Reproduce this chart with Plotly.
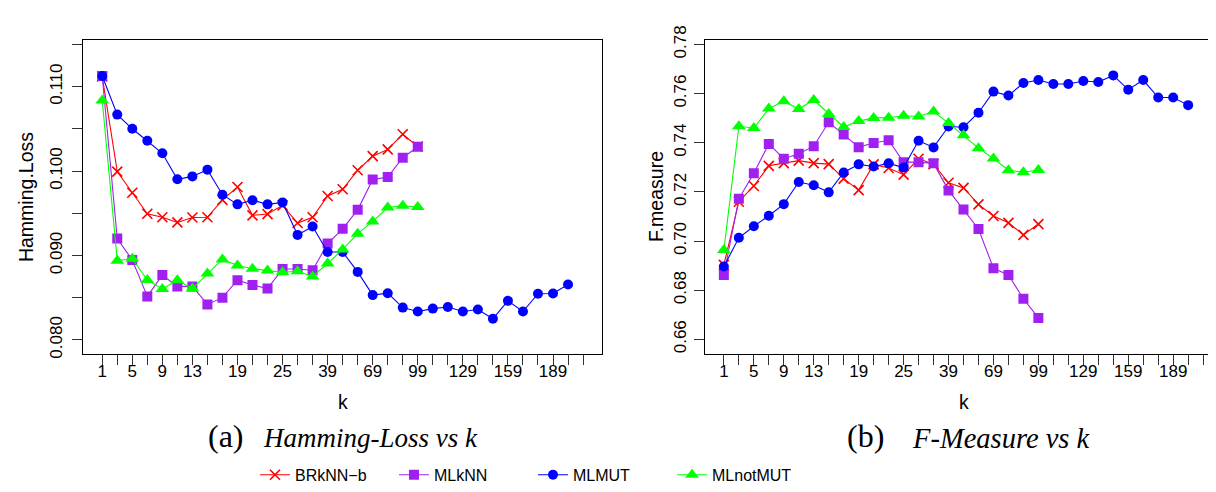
import plotly.graph_objects as go

# ---------------- data ----------------
k_values = [1, 3, 5, 7, 9, 11, 13, 15, 17, 19, 21, 23, 25, 27, 29,
            39, 49, 59, 69, 79, 89, 99, 109, 119, 129, 139, 149, 159,
            169, 179, 189, 199, 209]
k_labels_shown = [1, 5, 9, 13, 19, 25, 39, 69, 99, 129, 159, 189]

series_names = ["BRkNN\u2212b", "MLkNN", "MLMUT", "MLnotMUT"]

hl_brknn = [0.1112, 0.09994, 0.09743, 0.09495, 0.09453, 0.09392, 0.09450, 0.09453,
            0.09659, 0.09811, 0.09476, 0.09491, 0.09594, 0.09385, 0.09453, 0.09705,
            0.09785, 0.10010, 0.10177, 0.10257, 0.10436, 0.10291]
hl_mlknn = [0.11126, 0.09202, 0.08947, 0.08516, 0.08768, 0.08634, 0.08634, 0.08421,
            0.08501, 0.08707, 0.08650, 0.08608, 0.08840, 0.08840, 0.08825, 0.09141,
            0.09316, 0.09541, 0.09899, 0.09930, 0.10158, 0.10288]
hl_mlmut = [0.11126, 0.10669, 0.10501, 0.10360, 0.10211, 0.09903, 0.09937, 0.10017,
            0.09720, 0.09606, 0.09655, 0.09606, 0.09629, 0.09244, 0.09343, 0.09042,
            0.09042, 0.08806, 0.08531, 0.08554, 0.08383, 0.08337, 0.08371, 0.08390,
            0.08337, 0.08360, 0.08250, 0.08463, 0.08337, 0.08547, 0.08550, 0.08657]
hl_mlnotmut = [0.10836, 0.08939, 0.08962, 0.08710, 0.08604, 0.08707, 0.08608, 0.08787,
               0.08954, 0.08882, 0.08844, 0.08821, 0.08802, 0.08813, 0.08752, 0.08905,
               0.09072, 0.09259, 0.09404, 0.09568, 0.09590, 0.09575]

fm_brknn = [0.6903, 0.7160, 0.7224, 0.7306, 0.7317, 0.7327, 0.7317, 0.7313,
            0.7254, 0.7207, 0.7312, 0.7297, 0.7270, 0.7335, 0.7313, 0.7237,
            0.7216, 0.7149, 0.7102, 0.7074, 0.7025, 0.7069]
fm_mlknn = [0.6862, 0.7172, 0.7276, 0.7395, 0.7335, 0.7355, 0.7386, 0.7483,
            0.7433, 0.7382, 0.7399, 0.7410, 0.7321, 0.7321, 0.7316, 0.7206,
            0.7128, 0.7049, 0.6889, 0.6862, 0.6765, 0.6687]
fm_mlmut = [0.6896, 0.7013, 0.7060, 0.7103, 0.7150, 0.7240, 0.7227, 0.7198,
            0.7279, 0.7312, 0.7303, 0.7316, 0.7299, 0.7408, 0.7381, 0.7466,
            0.7463, 0.7522, 0.7608, 0.7592, 0.7643, 0.7655, 0.7639, 0.7639,
            0.7651, 0.7647, 0.7674, 0.7616, 0.7655, 0.7584, 0.7584, 0.7553]
fm_mlnotmut = [0.6963, 0.7467, 0.7460, 0.7539, 0.7569, 0.7537, 0.7574, 0.7517,
               0.7464, 0.7488, 0.7501, 0.7502, 0.7510, 0.7507, 0.7527, 0.7480,
               0.7430, 0.7378, 0.7336, 0.7288, 0.7280, 0.7289]

hl_ticks = [0.080, 0.085, 0.090, 0.095, 0.100, 0.105, 0.110, 0.115]
hl_tick_labels = ["0.080", "", "0.090", "", "0.100", "", "0.110", ""]
fm_ticks = [0.66, 0.68, 0.70, 0.72, 0.74, 0.76, 0.78]
fm_tick_labels = ["0.66", "0.68", "0.70", "0.72", "0.74", "0.76", "0.78"]

# ---------------- styling ----------------
colors = ["#FF0000", "#A020F0", "#0000FF", "#00FF00"]
symbols = ["x-thin", "square", "circle", "triangle-up"]
sizes = [10, 10, 10, 12]

W, H = 1216, 492
SANS = "Liberation Sans, Arial, Helvetica, sans-serif"
SERIF = "Liberation Serif, Times New Roman, serif"

positions = list(range(1, len(k_values) + 1))
tick_text = [str(k) if k in k_labels_shown else "" for k in k_values]

fig = go.Figure()

hl_data = [hl_brknn, hl_mlknn, hl_mlmut, hl_mlnotmut]
fm_data = [fm_brknn, fm_mlknn, fm_mlmut, fm_mlnotmut]

for panel, data in enumerate([hl_data, fm_data]):
    xa = "x" if panel == 0 else "x2"
    ya = "y" if panel == 0 else "y2"
    for i, vals in enumerate(data):
        mline = dict(width=1.6, color=colors[i]) if symbols[i] == "x-thin" else dict(width=0)
        fig.add_trace(go.Scatter(
            x=positions[:len(vals)], y=vals, xaxis=xa, yaxis=ya,
            mode="lines+markers", name=series_names[i],
            showlegend=(panel == 0),
            line=dict(color=colors[i], width=1.1),
            marker=dict(symbol=symbols[i], size=sizes[i], color=colors[i], line=mline),
        ))

def px_x(v):
    return v / W

def px_y(v):
    return 1 - v / H

axis_common = dict(
    showline=True, mirror=True, linecolor="#000000", linewidth=1,
    ticks="outside", ticklen=10, tickcolor="#333333", tickwidth=1,
    showgrid=False, zeroline=False,
    tickfont=dict(family=SANS, size=17, color="#000000"),
)

top_px, bot_px = 18.3, 345.0
fig.update_layout(
    width=W, height=H,
    margin=dict(l=0, r=0, t=0, b=0),
    paper_bgcolor="white", plot_bgcolor="white",
    xaxis=dict(domain=[px_x(75), px_x(594.3)], range=[-0.28, 34.28],
               tickvals=positions, ticktext=tick_text, anchor="y",
               ticklabelstandoff=-9, **axis_common),
    yaxis=dict(domain=[px_y(bot_px), px_y(top_px)], range=[0.07829, 0.11557],
               tickvals=hl_ticks, ticktext=hl_tick_labels, tickangle=-90,
               ticklabelstandoff=3, anchor="x", **axis_common),
    xaxis2=dict(domain=[px_x(696.7), px_x(1214.3)], range=[-0.28, 34.28],
                tickvals=positions, ticktext=tick_text, anchor="y2",
                ticklabelstandoff=-9, **axis_common),
    yaxis2=dict(domain=[px_y(bot_px), px_y(top_px)], range=[0.65386, 0.78196],
                tickvals=fm_ticks, ticktext=fm_tick_labels, tickangle=-90,
                ticklabelstandoff=1, anchor="x2", **axis_common),
    legend=dict(orientation="h", x=px_x(247), y=px_y(470), xanchor="left", yanchor="middle",
                font=dict(family=SANS, size=16, color="#000000"),
                entrywidth=94, entrywidthmode="pixels",
                bgcolor="rgba(0,0,0,0)", borderwidth=0),
    showlegend=True,
)

annotations = [
    dict(text="Hamming.Loss", x=px_x(18), y=px_y(181.7), textangle=-90,
         font=dict(family=SANS, size=19.5, color="#000")),
    dict(text="F.measure", x=px_x(648), y=px_y(181.7), textangle=-90,
         font=dict(family=SANS, size=19.5, color="#000")),
    dict(text="k", x=px_x(334.7), y=px_y(394), font=dict(family=SANS, size=19.5, color="#000")),
    dict(text="k", x=px_x(955.5), y=px_y(394), font=dict(family=SANS, size=19.5, color="#000")),
    dict(text="(a)", x=px_x(218), y=px_y(430),
         font=dict(family=SERIF, size=32, color="#000")),
    dict(text="<i>Hamming-Loss vs k</i>", x=px_x(362), y=px_y(432),
         font=dict(family=SERIF, size=27, color="#000")),
    dict(text="(b)", x=px_x(857), y=px_y(430),
         font=dict(family=SERIF, size=32, color="#000")),
    dict(text="<i>F-Measure vs k</i>", x=px_x(993), y=px_y(432),
         font=dict(family=SERIF, size=28.5, color="#000")),
]
for a in annotations:
    a.setdefault("xanchor", "center")
    a.update(xref="paper", yref="paper", yanchor="middle", showarrow=False)
fig.update_layout(annotations=annotations)

fig.write_html("out.html")
